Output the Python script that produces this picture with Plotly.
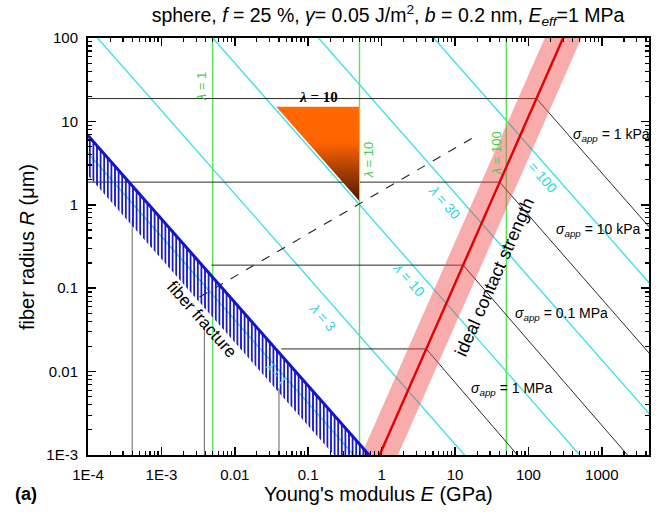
import numpy as np
import plotly.graph_objects as go

# ---------------- data ----------------
E_LIM = [1e-4, 10 ** 3.643]          # Young's modulus range (GPa)
R_LIM = [1e-3, 100.0]                # fiber radius range (um)

x_tick_vals = [1e-4, 1e-3, 0.01, 0.1, 1, 10, 100, 1000]
x_tick_text = ["1E-4", "1E-3", "0.01", "0.1", "1", "10", "100", "1000"]
y_tick_vals = [1e-3, 0.01, 0.1, 1, 10, 100]
y_tick_text = ["1E-3", "0.01", "0.1", "1", "10", "100"]

# green lambda lines (vertical)
lambda_green = [1, 10, 100]
E_green = [0.005, 0.5, 50.0]

# cyan lambda lines: R * E = const
lambda_cyan = [3, 10, 30, 100]
RE_cyan = [10 ** -1.87, 10 ** -0.30, 10 ** 1.14, 10 ** 2.71]
RE_lambda1 = 10 ** -3.38

# fiber fracture band: R * E between these
RE_frac_top = 10 ** -3.17
RE_frac_bot = 10 ** -3.65

# ideal contact strength: R = K * E^2, band factor in R
K_ideal = 10 ** -2.945
band_factor = 10 ** 0.5

# applied stress construction lines
sigma_labels = ["1 kPa", "10 kPa", "0.1 MPa", "1 MPa"]
R_sigma = [18.8, 1.87, 0.189, 0.0187]
E_h_start = [1e-4, 1e-4, 4.8e-3, 0.043]
E_sigma_end = [10 ** 3.643, 10 ** 3.643, 10 ** 3.35, 10 ** 1.85]
R_sigma_end = [10 ** -0.263, 10 ** -1.777, 1e-3, 1e-3]

# gray vertical drop lines
E_vert = [4.0e-4, 3.85e-3, 0.040]
R_vert_top = [0.647, 0.034, 6.3e-3]

# orange triangle (lambda = 10)
tri_E = [0.0367, 0.5, 0.5]
tri_R = [15.0, 15.0, 1.1]

# dashed line
dash_E = [10 ** -2.481, 10 ** 1.307]
dash_R = [10 ** -1.106, 10 ** 0.837]

# ---------------- styles ----------------
CYAN = "#3fe2e6"
GREEN = "#5fe35f"
FONT = "Liberation Sans"

fig = go.Figure()


def line(xs, ys, color, width=1.0, dash=None):
    fig.add_trace(go.Scatter(x=xs, y=ys, mode="lines",
                             line=dict(color=color, width=width, dash=dash),
                             hoverinfo="skip", showlegend=False))


E_far = [E_LIM[0] / 10, E_LIM[1] * 10]

# cyan lines
for c in RE_cyan:
    line(E_far, [c / e for e in E_far], CYAN, 1.4)

# green verticals
for e in E_green:
    line([e, e], R_LIM, GREEN, 1.4)

# gray drop lines
for e, r in zip(E_vert, R_vert_top):
    line([e, e], [r, R_LIM[0]], "#666666", 1.0)

# sigma construction lines
for r, e0, e1, r1 in zip(R_sigma, E_h_start, E_sigma_end, R_sigma_end):
    ec = np.sqrt(r / K_ideal)
    line([e0, ec], [r, r], "#2a2a2a", 1.0)
    line([ec, e1], [r, r1], "#2a2a2a", 1.0)

# dashed line
line(dash_E, dash_R, "#222222", 1.1, "dash")

# ideal contact strength band
bE = [0.05, 5000.0]
band_x = [bE[0], bE[1], bE[1], bE[0], bE[0]]
band_y = [K_ideal * band_factor * bE[0] ** 2, K_ideal * band_factor * bE[1] ** 2,
          K_ideal / band_factor * bE[1] ** 2, K_ideal / band_factor * bE[0] ** 2,
          K_ideal * band_factor * bE[0] ** 2]
fig.add_trace(go.Scatter(x=band_x, y=band_y, mode="lines", fill="toself",
                         fillcolor="rgba(240,70,70,0.45)", line=dict(width=0),
                         hoverinfo="skip", showlegend=False))
line(bE, [K_ideal * e ** 2 for e in bE], "#e30000", 2.4)

# fiber fracture band
line(E_far, [RE_lambda1 / e for e in E_far], CYAN, 1.4)
fx = [E_far[0], E_far[1], E_far[1], E_far[0], E_far[0]]
fy = [RE_frac_top / E_far[0], RE_frac_top / E_far[1], RE_frac_bot / E_far[1],
      RE_frac_bot / E_far[0], RE_frac_top / E_far[0]]
fig.add_trace(go.Scatter(x=fx, y=fy, mode="lines", fill="toself",
                         fillcolor="rgba(0,0,0,0)",
                         fillpattern=dict(shape="|", fgcolor="#1c1cc4",
                                          bgcolor="rgba(0,0,0,0)", size=3.6,
                                          solidity=0.5, fillmode="replace"),
                         line=dict(width=0), hoverinfo="skip", showlegend=False))
line(E_far, [RE_frac_top / e for e in E_far], "#1515c8", 3.0)

# orange triangle
fig.add_trace(go.Scatter(x=tri_E + [tri_E[0]], y=tri_R + [tri_R[0]], mode="lines",
                         fill="toself", line=dict(width=0),
                         fillgradient=dict(type="vertical",
                                           colorscale=[[0, "#4e1700"], [0.3, "#a03c00"],
                                                       [0.62, "#ff6400"], [1, "#ff6a00"]]),
                         hoverinfo="skip", showlegend=False))
line([0.5, 0.5], [tri_R[2], tri_R[0]], "#a8d050", 1.0)

# ---------------- annotations ----------------
ann = []
L = np.log10


def txt(text, e, r, size=14, color="black", angle=0, family=FONT, **kw):
    ann.append(dict(text=text, x=L(e), y=L(r), xref="x", yref="y", showarrow=False,
                    xanchor="center", yanchor="middle",
                    textangle=angle, font=dict(size=size, color=color, family=family), **kw))


ANG_L = 48.6   # slope -1 in pixel space
ANG_R = -66.2  # slope +2

# green lambda labels
green_lab_pos = [(10 ** -2.458, 10 ** 1.412), (10 ** -0.192, 10 ** 0.537), (10 ** 1.561, 10 ** 0.621)]
for lam, (e, r) in zip(lambda_green, green_lab_pos):
    txt(f"<i>λ</i> = {lam}", e, r, 13, "#44d044", -90)

# cyan labels
cyan_lab_pos = [(10 ** -0.805, 10 ** -1.345), (10 ** 0.380, 10 ** -0.902),
                (10 ** 0.857, 10 ** 0.034), (10 ** 2.192, 10 ** 0.333)]
cyan_lab_txt = [f"<i>λ</i> = {l}" for l in lambda_cyan[:3]] + [f"= {lambda_cyan[3]}"]
for t, (e, r) in zip(cyan_lab_txt, cyan_lab_pos):
    txt(t, e, r, 14, "#2ad8e0", ANG_L)
txt("<i>λ</i> = 1", 10 ** -1.436, 10 ** -2.017, 11, "#5fe6f0", ANG_L)

# triangle label
txt("<b><i>λ</i> = 10</b>", 10 ** -0.866, 10 ** 1.293, 15, "black", 0, "Liberation Serif")

# band labels
txt("fiber fracture", 10 ** -2.448, 10 ** -1.375, 17, "black", ANG_L)
txt("ideal contact strength", 10 ** 1.538, 10 ** -0.866, 18, "black", ANG_R)

# sigma labels
sigma_lab_pos = [(10 ** 3.132, 10 ** 0.837), (10 ** 2.955, 10 ** -0.302),
                 (10 ** 2.451, 10 ** -1.309), (10 ** 1.770, 10 ** -2.209)]
for s, (e, r) in zip(sigma_labels, sigma_lab_pos):
    txt(f"<i>σ<sub>app</sub></i> = {s}", e, r, 14)

# axis titles
PL, PW, PT, PH = 88, 561, 38, 417
def paper_x(px): return (px - PL) / PW
def paper_y(py): return (PT + PH - py) / PH

ann.append(dict(text="Young's modulus <i>E</i> (GPa)", x=paper_x(378), y=paper_y(494),
                xref="paper", yref="paper", showarrow=False,
                xanchor="center", yanchor="middle",
                font=dict(size=20, family=FONT, color="black")))
ann.append(dict(text="<b>(a)</b>", x=paper_x(26), y=paper_y(494),
                xref="paper", yref="paper", showarrow=False,
                xanchor="center", yanchor="middle",
                font=dict(size=18, family=FONT, color="black")))
ann.append(dict(text="fiber radius <i>R</i> (μm)", x=paper_x(27), y=paper_y(247),
                xref="paper", yref="paper", showarrow=False, textangle=-90,
                xanchor="center", yanchor="middle",
                font=dict(size=20, family=FONT, color="black")))

x_minor = [m * 10 ** d for d in range(-4, 4) for m in range(2, 10) if m * 10 ** d < E_LIM[1]]
y_minor = [m * 10 ** d for d in range(-3, 2) for m in range(2, 10)]

axis_common = dict(type="log", showgrid=False, zeroline=False, showline=True,
                   linewidth=2, linecolor="black", mirror="allticks",
                   ticks="inside", ticklen=8, tickwidth=1.5, tickcolor="black",
                   tickfont=dict(size=15, family=FONT, color="black"),
                   ticklabelstandoff=5, automargin=False)

fig.update_layout(
    width=669, height=519, autosize=False,
    margin=dict(l=PL, r=669 - PL - PW, t=PT, b=519 - PT - PH, autoexpand=False),
    paper_bgcolor="white", plot_bgcolor="white",
    showlegend=False, hovermode=False,
    title=dict(text="sphere, <i>f</i> = 25 %, <i>γ</i>= 0.05 J/m<sup>2</sup>, <i>b</i> = 0.2 nm, <i>E<sub>eff</sub></i>=1 MPa",
               x=388 / 669, xanchor="center", xref="container",
               y=1 - 15 / 519, yanchor="middle", yref="container", automargin=False,
               font=dict(size=19.5, family=FONT, color="black")),
    xaxis=dict(range=[L(E_LIM[0]), L(E_LIM[1])], tickmode="array",
               tickvals=x_tick_vals, ticktext=x_tick_text,
               minor=dict(tickmode="array", tickvals=x_minor, ticks="inside",
                          ticklen=4, tickwidth=1.2, tickcolor="black"),
               **axis_common),
    yaxis=dict(range=[L(R_LIM[0]), L(R_LIM[1])], tickmode="array",
               tickvals=y_tick_vals, ticktext=y_tick_text,
               minor=dict(tickmode="array", tickvals=y_minor, ticks="inside",
                          ticklen=4, tickwidth=1.2, tickcolor="black"),
               **axis_common),
    annotations=ann,
)

fig.write_html("out.html", config={"displayModeBar": False, "staticPlot": True},
               post_script="document.body.style.margin='0px';document.body.style.overflow='hidden';")
